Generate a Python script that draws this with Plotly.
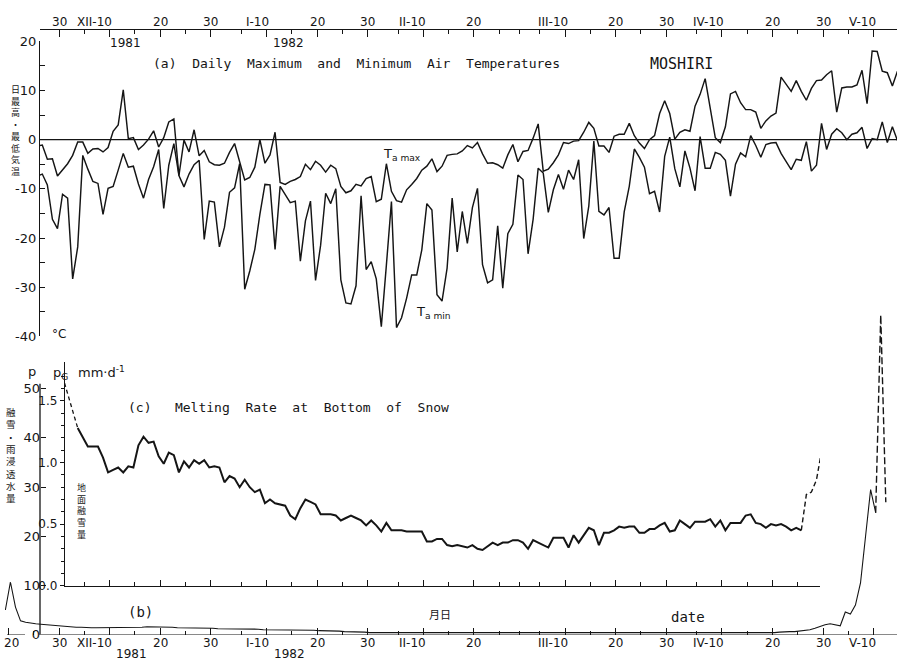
import pandas as pd
import plotly.graph_objects as go

W, H = 897, 669
REF = pd.Timestamp("1981-11-30")
INK = "#151515"
FONT = "DejaVu Sans"
MONO = "DejaVu Sans Mono"
JP = "Noto Sans CJK JP"

# ---------------- data ----------------
TEMP_START = "1981-11-25"
TEMP_OFFSET = 0.7
tmax = [-1.3, -1.1, -4.0, -3.9, -7.4, -6.1, -4.9, -3.2, -0.5, -0.5,
        -2.8, -1.9, -1.8, -2.5, -1.6, 1.7, 3.0, 10.1, 0.2, 0.4,
        -2.0, -1.1, 0.1, 1.8, -1.5, 0.4, 3.6, 4.2, -7.3, -0.1,
        -2.5, 2.0, -3.3, -2.2, -4.5, -5.1, -5.2, -4.8, -2.6, -0.8,
        -4.8, -8.2, -7.7, -5.6, 0.0, -4.8, -3.1, 1.5, -8.7, -9.1,
        -8.5, -8.1, -7.5, -5.0, -6.1, -4.4, -5.2, -6.6, -5.2, -5.9,
        -9.5, -10.8, -10.4, -9.1, -9.4, -7.9, -7.5, -12.6, -12.1, -4.9,
        -10.5, -12.4, -12.7, -10.2, -9.1, -7.9, -6.2, -5.4, -3.9, -6.5,
        -5.4, -3.2, -3.0, -2.9, -2.3, -1.2, -1.7, -0.6, -2.9, -4.8,
        -4.7, -5.1, -5.8, -3.1, -1.0, -4.5, -2.4, -2.2, 0.3, 3.2,
        -6.4, -6.0, -4.7, -3.1, -0.6, -0.8, -0.3, -0.2, 1.5, 3.5,
        2.3, -1.3, -1.3, -2.6, 0.7, 1.1, 1.1, 3.3, 0.8, -0.7,
        -1.8, 0.0, 0.8, 5.3, 7.9, 5.3, 0.1, 1.5, 2.0, 1.7,
        6.8, 9.2, 12.4, 6.8, 0.4, -0.6, 2.6, 9.3, 9.8, 7.5,
        6.1, 6.1, 5.6, 2.3, 3.8, 4.8, 5.4, 12.7, 11.3, 9.8,
        12.0, 9.8, 8.0, 10.4, 12.0, 12.1, 13.2, 14.0, 5.6, 10.5,
        10.7, 10.7, 11.1, 14.1, 7.3, 18.0, 17.9, 13.9, 13.6, 10.9,
        13.9]
tmin = [-7.4, -7.0, -9.2, -16.2, -18.1, -11.1, -11.9, -28.3, -21.8, -3.2,
        -6.0, -8.5, -8.9, -15.2, -9.9, -9.5, -6.2, -2.8, -5.6, -5.4,
        -9.0, -11.9, -8.1, -5.5, -2.0, -14.0, -5.2, -0.8, -7.3, -9.6,
        -7.0, -5.1, -4.2, -20.3, -12.5, -12.7, -21.8, -17.8, -10.7, -9.8,
        -4.9, -30.4, -26.7, -22.3, -15.2, -9.1, -9.2, -22.3, -9.5, -11.1,
        -12.8, -12.5, -24.7, -16.5, -12.5, -28.6, -21.5, -10.9, -13.0, -10.0,
        -28.5, -33.2, -33.4, -29.7, -11.4, -26.4, -24.8, -28.3, -38.0, -25.5,
        -12.6, -38.2, -36.2, -32.2, -27.5, -27.5, -22.4, -13.0, -14.3, -31.5,
        -32.8, -26.1, -11.9, -22.8, -14.6, -21.1, -13.8, -9.9, -25.4, -29.1,
        -28.5, -17.5, -30.2, -19.1, -17.2, -7.2, -8.1, -23.2, -16.2, -5.8,
        -6.8, -14.8, -10.2, -7.1, -10.1, -6.2, -8.1, -4.1, -20.1, -13.5,
        -0.3, -14.6, -15.3, -13.8, -24.1, -24.1, -14.7, -9.5, -1.9, -3.6,
        -5.6, -11.0, -10.5, -14.7, -3.4, 0.5, -5.9, -9.6, -2.3, -5.8,
        -10.4, 0.6, -5.8, -5.8, -2.6, -3.0, -4.2, -11.5, -5.0, -2.7,
        -3.5, 0.8, -1.2, -3.6, -1.0, -0.7, -0.6, -2.8, -4.5, -6.1,
        -4.0, -4.2, -0.4, -6.4, -5.2, 3.3, -2.0, 1.1, 2.2, 1.4,
        0.0, 1.1, 1.4, 2.5, -1.8, 0.2, 0.0, 3.6, -0.6, 2.6,
        -0.2]

PG_START = "1981-11-30"
PG_OFFSET = 0.7
pg = [1.70, 1.57, 1.42, 1.28, 1.20, 1.13, 1.13, 1.13, 1.04, 0.92,
      0.94, 0.96, 0.92, 0.97, 0.96, 1.14, 1.21, 1.16, 1.17, 1.05,
      0.99, 1.08, 1.06, 0.92, 1.01, 0.96, 1.02, 0.99, 1.02, 0.96,
      0.97, 0.96, 0.84, 0.89, 0.87, 0.80, 0.86, 0.80, 0.76, 0.78,
      0.67, 0.70, 0.67, 0.66, 0.65, 0.57, 0.54, 0.63, 0.70, 0.68,
      0.66, 0.58, 0.58, 0.58, 0.57, 0.53, 0.55, 0.57, 0.55, 0.53,
      0.49, 0.53, 0.49, 0.44, 0.51, 0.45, 0.45, 0.45, 0.44, 0.44,
      0.44, 0.44, 0.36, 0.36, 0.38, 0.38, 0.33, 0.32, 0.33, 0.32,
      0.31, 0.33, 0.30, 0.29, 0.32, 0.35, 0.33, 0.35, 0.35, 0.37,
      0.37, 0.35, 0.30, 0.37, 0.35, 0.33, 0.31, 0.39, 0.39, 0.39,
      0.31, 0.41, 0.35, 0.41, 0.47, 0.45, 0.33, 0.43, 0.43, 0.45,
      0.48, 0.47, 0.48, 0.48, 0.43, 0.43, 0.46, 0.46, 0.49, 0.51,
      0.44, 0.45, 0.53, 0.50, 0.47, 0.52, 0.52, 0.52, 0.54, 0.48,
      0.53, 0.45, 0.51, 0.51, 0.51, 0.57, 0.58, 0.51, 0.50, 0.47,
      0.50, 0.49, 0.50, 0.48, 0.45, 0.47, 0.45, 0.74, 0.76, 0.86,
      1.09]
PG_SOLID_FIRST, PG_SOLID_LAST = 3, 146

P_START = "1981-11-19"
P_OFFSET = 0.4
p = [5.0, 10.7, 5.6, 2.8, 2.5, 2.3, 2.2, 2.1, 2.0, 1.9,
     1.8, 1.7, 1.6, 1.6, 1.5, 1.5, 1.4, 1.4, 1.4, 1.4,
     1.4, 1.4, 1.4, 1.4, 1.4, 1.5, 1.5, 1.5, 1.6, 1.6,
     1.6, 1.5, 1.5, 1.5, 1.4, 1.4, 1.4, 1.3, 1.3, 1.3,
     1.3, 1.3, 1.2, 1.2, 1.2, 1.2, 1.1, 1.1, 1.1, 1.1,
     1.1, 1.0, 1.0, 1.0, 1.0, 1.0, 0.9, 0.9, 0.9, 0.9,
     0.9, 0.9, 0.8, 0.8, 0.8, 0.7, 0.7, 0.6, 0.6, 0.5,
     0.5, 0.5, 0.4, 0.4, 0.3, 0.3, 0.3, 0.3, 0.3, 0.3,
     0.3, 0.3, 0.3, 0.3, 0.3, 0.3, 0.3, 0.3, 0.3, 0.3,
     0.3, 0.3, 0.3, 0.3, 0.3, 0.3, 0.3, 0.3, 0.3, 0.3,
     0.3, 0.3, 0.3, 0.3, 0.3, 0.3, 0.3, 0.3, 0.3, 0.3,
     0.3, 0.3, 0.4, 0.4, 0.4, 0.4, 0.4, 0.4, 0.4, 0.4,
     0.4, 0.4, 0.4, 0.4, 0.4, 0.4, 0.4, 0.4, 0.4, 0.4,
     0.4, 0.4, 0.4, 0.4, 0.4, 0.4, 0.4, 0.4, 0.4, 0.4,
     0.4, 0.4, 0.4, 0.4, 0.4, 0.4, 0.4, 0.4, 0.4, 0.4,
     0.4, 0.4, 0.4, 0.5, 0.6, 0.6, 0.6, 0.7, 0.8, 1.0,
     1.3, 1.7, 2.0, 2.2, 2.0, 1.8, 4.6, 4.2, 6.0, 10.5,
     20.0, 29.5, 24.8, 65.0, 26.9]
P_SOLID_LAST = 172

TOP_LABEL_DATES = ["1981-11-30", "1981-12-10", "1981-12-20", "1981-12-30",
                   "1982-01-10", "1982-01-20", "1982-01-30", "1982-02-10",
                   "1982-02-20", "1982-03-10", "1982-03-20", "1982-03-30",
                   "1982-04-10", "1982-04-20", "1982-04-30", "1982-05-10"]
TOP_LABEL_TEXT = ["30", "XII-10", "20", "30", "I-10", "20", "30", "II-10",
                  "20", "III-10", "20", "30", "IV-10", "20", "30", "V-10"]
BOTTOM_LABEL_DATES = ["1981-11-20"] + TOP_LABEL_DATES
BOTTOM_LABEL_TEXT = ["20"] + TOP_LABEL_TEXT
MINOR_TICK_DATES = ["1981-11-15", "1981-11-25", "1981-12-05", "1981-12-15",
                    "1981-12-25", "1982-01-05", "1982-01-15", "1982-01-25",
                    "1982-02-05", "1982-02-15", "1982-02-25", "1982-03-01",
                    "1982-03-05", "1982-03-15", "1982-03-25", "1982-04-05",
                    "1982-04-15", "1982-04-25", "1982-05-05", "1982-05-15"]

T_TICKS = [-40, -30, -20, -10, 0, 10, 20]
T_MINOR = [-35, -25, -15, -5, 5, 15]
PG_TICKS = [0.0, 0.5, 1.0, 1.5]
PG_MINOR = [0.1, 0.2, 0.3, 0.4, 0.6, 0.7, 0.8, 0.9, 1.1, 1.2, 1.3, 1.4, 1.6, 1.7]
P_TICKS = [0, 10, 20, 30, 40, 50]

VTEXT_A = "日最高・最低気温"
VTEXT_P = "融雪・雨浸透水量"
VTEXT_PG = "地面融雪量"


# ---------------- helpers ----------------
def dnum(s):
    return (pd.Timestamp(s) - REF) / pd.Timedelta(days=1)


def xdays(start, n, offset):
    dr = pd.date_range(start, periods=n, freq="D")
    return list((dr - REF) / pd.Timedelta(days=1) + offset)


def px(x):
    return x / W


def py(y):
    return 1 - y / H


PX0, PXD = 59.0, 5.06   # pixel of 30 Nov, pixels per day


def pxday(x):
    return (x - PX0) / PXD


major_vals = [dnum(d) for d in BOTTOM_LABEL_DATES]
minor_vals = [dnum(d) for d in MINOR_TICK_DATES]

tx = xdays(TEMP_START, len(tmax), TEMP_OFFSET)
gx = xdays(PG_START, len(pg), PG_OFFSET)
ppx = xdays(P_START, len(p), P_OFFSET)

line = dict(color=INK, width=1.45)
fig = go.Figure()
fig.add_trace(go.Scatter(x=tx, y=tmax, mode="lines", line=line, xaxis="x", yaxis="y"))
fig.add_trace(go.Scatter(x=tx, y=tmin, mode="lines", line=line, xaxis="x", yaxis="y"))

a, b = PG_SOLID_FIRST, PG_SOLID_LAST
fig.add_trace(go.Scatter(x=gx[a:b + 1], y=pg[a:b + 1], mode="lines",
                         line=dict(color=INK, width=2.0), xaxis="x2", yaxis="y2"))
fig.add_trace(go.Scatter(x=gx[:a + 1], y=pg[:a + 1], mode="lines",
                         line=dict(color=INK, width=1.3, dash="4px,3px"), xaxis="x2", yaxis="y2"))
fig.add_trace(go.Scatter(x=gx[b:], y=pg[b:], mode="lines",
                         line=dict(color=INK, width=1.4, dash="5px,3px"), xaxis="x2", yaxis="y2"))

fig.add_trace(go.Scatter(x=ppx[:P_SOLID_LAST + 1], y=p[:P_SOLID_LAST + 1], mode="lines",
                         line=dict(color=INK, width=1.1), xaxis="x3", yaxis="y3"))
fig.add_trace(go.Scatter(x=ppx[P_SOLID_LAST:], y=p[P_SOLID_LAST:], mode="lines",
                         line=dict(color=INK, width=1.4, dash="7px,3px"), xaxis="x3", yaxis="y3"))

tickfont = dict(family=FONT, size=12, color=INK)
common_x = dict(showgrid=False, zeroline=False, showticklabels=False,
                tickmode="array", tickvals=major_vals, tickcolor=INK, tickwidth=1.2,
                minor=dict(tickmode="array", tickvals=minor_vals, ticks="inside",
                           ticklen=4, tickcolor=INK, tickwidth=1, showgrid=False))

fig.update_layout(
    width=W, height=H, margin=dict(l=0, r=0, t=0, b=0),
    paper_bgcolor="white", plot_bgcolor="rgba(0,0,0,0)", showlegend=False,
    xaxis=dict(domain=[px(40), 1], range=[pxday(40), pxday(897)], side="top",
               anchor="free", position=py(22), showline=True, linecolor=INK,
               linewidth=1.3, ticks="inside", ticklen=7, **common_x),
    yaxis=dict(domain=[py(337), py(35)], range=[-40, 20], anchor="x",
               showline=True, linecolor=INK, linewidth=1.3, showgrid=False,
               zeroline=False, ticks="inside", ticklen=5, tickcolor=INK,
               tickmode="array", tickvals=T_TICKS,
               ticktext=[str(v) for v in T_TICKS], tickfont=dict(family=FONT, size=13, color=INK),
               minor=dict(tickmode="array", tickvals=T_MINOR, ticks="inside",
                          ticklen=5, tickcolor=INK, showgrid=False)),
    xaxis2=dict(domain=[px(65), px(820)], range=[pxday(65), pxday(820)], anchor="y2",
                showline=True, linecolor=INK, linewidth=1.3, ticks="inside", ticklen=6,
                **common_x),
    yaxis2=dict(domain=[py(592), py(363)], range=[0, (592 - 363) / 126.0], anchor="x2",
                showline=True, linecolor=INK, linewidth=1.3, showgrid=False,
                zeroline=False, ticks="outside", ticklen=4, tickcolor=INK,
                tickmode="array", tickvals=PG_TICKS,
                ticktext=["%.1f" % v for v in PG_TICKS], tickfont=tickfont,
                minor=dict(tickmode="array", tickvals=PG_MINOR, ticks="outside",
                           ticklen=3, tickcolor=INK, showgrid=False)),
    xaxis3=dict(domain=[px(5), 1], range=[pxday(5), pxday(897)], anchor="y3",
                showline=False, ticks="inside", ticklen=7, **common_x),
    yaxis3=dict(domain=[py(642), py(300)], range=[0, (642 - 300) / 5.03], anchor="free",
                position=px(40), showline=False, showgrid=False, zeroline=False,
                ticks="inside", ticklen=5, tickcolor=INK, tickmode="array",
                tickvals=P_TICKS, ticktext=[str(v) for v in P_TICKS],
                tickfont=dict(family=FONT, size=13, color=INK)),
)

shapes = [
    # zero line of panel (a)
    dict(type="line", xref="x", yref="y", x0=pxday(40), x1=pxday(897), y0=0, y1=0,
         line=dict(color=INK, width=1.1)),
    # p axis line
    dict(type="line", xref="paper", yref="y3", x0=px(40), x1=px(40), y0=0, y1=51,
         line=dict(color=INK, width=1.3)),
    # bottom date axis (interrupted by the "0" label)
    dict(type="line", xref="paper", yref="y3", x0=px(7), x1=px(25), y0=0, y1=0,
         line=dict(color=INK, width=1.3)),
    dict(type="line", xref="paper", yref="y3", x0=px(39), x1=1, y0=0, y1=0,
         line=dict(color=INK, width=1.3)),
]
fig.update_layout(shapes=shapes)

ann = []


def A(text, x, y, xref="paper", yref="paper", xanchor="center", yanchor="middle",
      size=12, family=FONT):
    ann.append(dict(text=text, x=x, y=y, xref=xref, yref=yref, xanchor=xanchor,
                    yanchor=yanchor, showarrow=False,
                    font=dict(family=family, size=size, color=INK)))


for d, t in zip(TOP_LABEL_DATES, TOP_LABEL_TEXT):
    if "-" in t:
        A(t, dnum(d) + 0.9, py(15), xref="x", xanchor="right")
    else:
        A(t, dnum(d), py(15), xref="x")
for d, t in zip(BOTTOM_LABEL_DATES, BOTTOM_LABEL_TEXT):
    if "-" in t:
        A(t, dnum(d) + 0.9, py(651), xref="x3", xanchor="right")
    else:
        A(t, dnum(d) + (0.6 if d == "1981-11-20" else 0), py(651), xref="x3")

A("1981", px(125), py(37))
A("1982", px(288), py(37))
A("1981", px(131), py(662))
A("1982", px(289), py(662))

S = "\u00a0"
A("(a)" + S * 2 + "Daily" + S * 2 + "Maximum" + S * 2 + "and" + S * 2 + "Minimum" + S * 2
  + "Air" + S * 2 + "Temperatures", px(151), py(58), xanchor="left", size=13, family=MONO)
A("MOSHIRI", px(681), py(58), size=15, family=MONO)
A("T<sub>a max</sub>", px(381), py(151), xanchor="left", size=13)
A("T<sub>a min</sub>", px(414), py(313), xanchor="left", size=13)
A("°C", px(50), py(335), xanchor="left", size=12)

A("(c)" + S * 3 + "Melting" + S * 2 + "Rate" + S * 2 + "at" + S * 2 + "Bottom" + S * 2
  + "of" + S * 2 + "Snow", px(126), py(410), xanchor="left", size=13, family=MONO)
A("p", px(32), py(373), size=13)
A("p<sub>G</sub>", px(51), py(375), xanchor="left", size=13)
A("mm·d<sup>-1</sup>", px(76), py(373), xanchor="left", size=13)
A("(b)", px(140), py(619), size=14, family=MONO)
A("月日", px(440), py(621), size=11, family=JP)
A("date", px(688), py(624), size=14, family=MONO)

A("<br>".join(VTEXT_A), px(15), py(126), size=9, family=JP)
A("<br>".join(VTEXT_P), px(11), py(458), size=9.5, family=JP)
A("<br>".join(VTEXT_PG), px(81), py(516), size=9, family=JP)

fig.update_layout(annotations=ann)
fig.write_html("out.html")
